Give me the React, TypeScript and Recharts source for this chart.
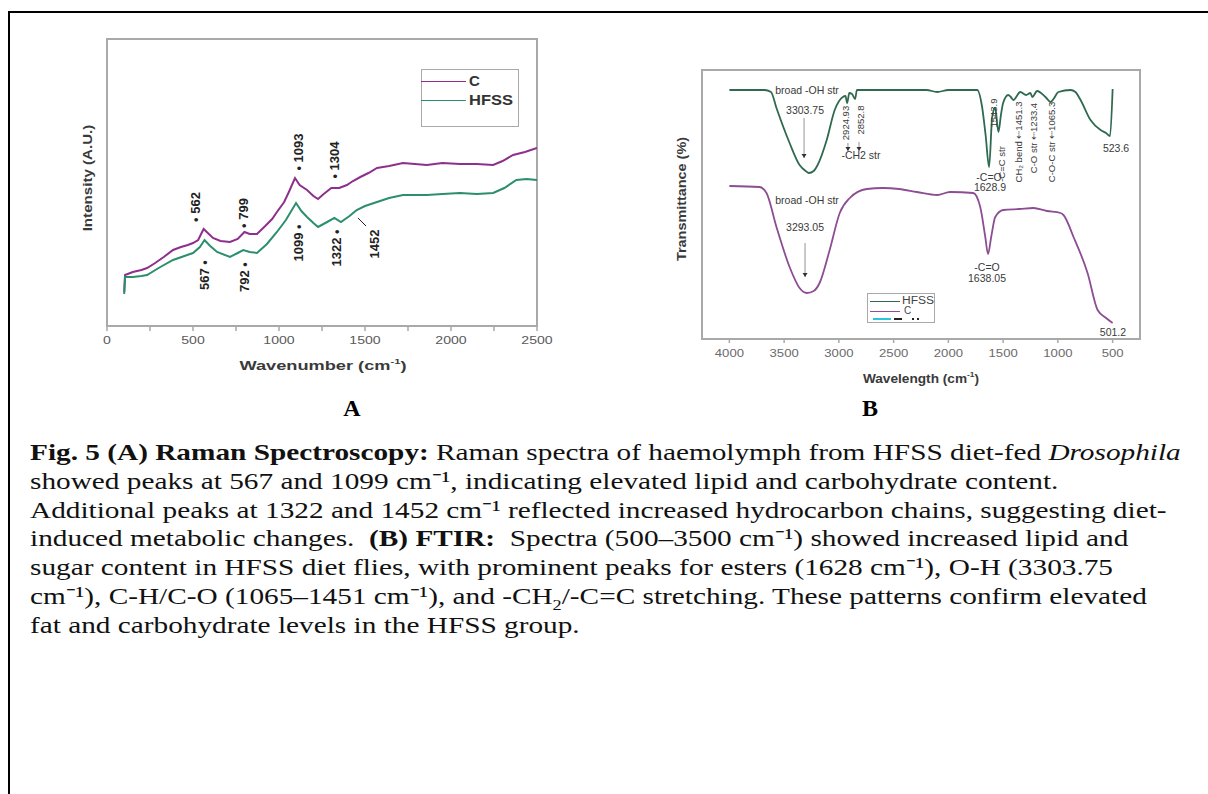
import React from "react";
import {
  LineChart,
  Line,
  XAxis,
  YAxis,
  ReferenceArea,
  ReferenceDot,
  ReferenceLine,
} from "recharts";

document.body.style.margin = "0";
document.body.style.overflow = "hidden";

const SANS = "Arial, 'Liberation Sans', sans-serif";
const SERIF = "'Times New Roman', 'Liberation Serif', serif";

const A_PURPLE = "#8e2f8e";
const A_GREEN = "#2b8f6e";
const B_GREEN = "#2f6a50";
const B_PURPLE = "#8c4d92";
const FRAME = "#a9a9a9";

// ---- A: Raman (wavenumber, intensity a.u.) ----
const ramanTicks = [0, 250, 500, 750, 1000, 1250, 1500, 1750, 2000, 2250, 2500];
const ramanC = [
  [100, 34], [105, 51], [150, 54], [200, 56], [233, 58], [280, 63], [330, 69],
  [384, 76], [430, 79], [470, 81], [500, 83], [530, 86], [550, 93], [562, 97],
  [580, 94], [616, 88], [660, 85], [715, 84], [760, 87], [799, 94], [830, 92],
  [872, 92], [920, 100], [960, 107], [988, 114], [1030, 124], [1060, 135],
  [1093, 148], [1120, 141], [1163, 136], [1200, 130], [1227, 127], [1260, 132],
  [1304, 138], [1350, 138], [1395, 141], [1430, 145], [1473, 149], [1520, 153],
  [1570, 158], [1640, 160], [1721, 163], [1790, 162], [1860, 161], [1950, 163],
  [2052, 162], [2150, 162], [2245, 161], [2300, 165], [2361, 171], [2430, 174],
  [2500, 178],
];
const ramanHFSS = [
  [100, 32], [105, 49], [150, 49], [200, 50], [233, 51], [300, 58], [384, 66],
  [450, 70], [500, 73], [540, 79], [567, 86], [600, 80], [640, 74], [715, 69],
  [760, 73], [792, 76], [830, 74], [872, 73], [930, 82], [988, 94], [1040, 106],
  [1099, 123], [1130, 115], [1163, 109], [1200, 103], [1227, 99], [1280, 104],
  [1322, 108], [1360, 104], [1410, 110], [1452, 116], [1500, 120], [1570, 124],
  [1640, 128], [1721, 131], [1860, 131], [1950, 132], [2052, 133], [2150, 132],
  [2245, 133], [2310, 138], [2380, 146], [2440, 147], [2500, 146],
];
const ramanLabels = [
  { text: "• 562", wn: 517, v: 119 },
  { text: "• 799", wn: 791, v: 113 },
  { text: "• 1093", wn: 1116, v: 174 },
  { text: "• 1304", wn: 1320, v: 166 },
  { text: "567 •", wn: 564, v: 51 },
  { text: "792 •", wn: 797, v: 49 },
  { text: "1099 •", wn: 1116, v: 83 },
  { text: "1322 •", wn: 1337, v: 78 },
  { text: "1452", wn: 1558, v: 82 },
];

// ---- B: FTIR (wavenumber, transmittance offset) ----
const ftirTicks = [4000, 3500, 3000, 2500, 2000, 1500, 1000, 500];
const ftirHFSS = [
  [4000, 249], [3679, 249], [3620, 247], [3570, 231], [3450, 196], [3359, 174],
  [3303, 168], [3274, 166], [3230, 168], [3194, 174], [3111, 199], [3038, 229],
  [2964, 242], [2940, 243], [2924, 236], [2905, 246], [2880, 245], [2852, 240],
  [2835, 249], [2500, 249], [2200, 249], [2102, 247], [2000, 249], [1737, 249],
  [1692, 232], [1660, 204], [1628, 172], [1600, 222], [1572, 231], [1543, 207],
  [1520, 224], [1500, 236], [1453, 244], [1430, 242], [1407, 239], [1343, 247],
  [1290, 244], [1251, 246], [1233, 242], [1190, 248], [1114, 242], [1065, 237],
  [1040, 240], [995, 247], [885, 249], [840, 247], [793, 239], [702, 219],
  [610, 209], [560, 206], [523.6, 203], [500, 250],
];
const ftirC = [
  [4000, 153], [3725, 152], [3661, 146], [3570, 112], [3450, 72], [3359, 51],
  [3293, 46], [3230, 48], [3176, 56], [3084, 89], [2992, 126], [2900, 141],
  [2745, 150], [2598, 151], [2450, 150], [2287, 147], [2102, 144], [1984, 147],
  [1773, 146], [1709, 132], [1663, 102], [1638, 85], [1609, 102], [1572, 122],
  [1499, 129], [1350, 130], [1224, 131], [1100, 128], [976, 126], [949, 124],
  [857, 102], [729, 66], [637, 29], [560, 21], [500, 16],
];
const ftirFlatLabels = [
  { text: "broad -OH str", wn: 3291, v: 249 },
  { text: "3303.75", wn: 3309, v: 229 },
  { text: "-CH2 str", wn: 2798, v: 184 },
  { text: "-C=O", wn: 1629, v: 162 },
  { text: "1628.9", wn: 1620, v: 152 },
  { text: "523.6", wn: 469, v: 191 },
  { text: "broad -OH str", wn: 3291, v: 139 },
  { text: "3293.05", wn: 3309, v: 112 },
  { text: "-C=O", wn: 1647, v: 72 },
  { text: "1638.05", wn: 1647, v: 61 },
  { text: "501.2", wn: 497, v: 7 },
];
const ftirRotLabels = [
  { text: "2924.93", wn: 2944, v: 216 },
  { text: "2852.8", wn: 2807, v: 219 },
  { text: "1543.9", wn: 1592, v: 226 },
  { text: "-C=C str", wn: 1519, v: 175 },
  { text: "CH\u2082 bend \u21E01451.3", wn: 1364, v: 197 },
  { text: "C-O str \u21E01233.4", wn: 1227, v: 201 },
  { text: "C-O-C str \u21E01065.3", wn: 1054, v: 197 },
];
const ftirArrows = [
  { wn: 3318, from: 221, to: 181 },
  { wn: 3309, from: 96, to: 62 },
  { wn: 2917, from: 196, to: 188 },
  { wn: 2816, from: 197, to: 188 },
];

const toPts = (arr: number[][]) => arr.map(([wn, v]) => ({ wn, v }));

function Annot({ cx, cy, text, size, bold, rotate, color }: any) {
  return (
    <text
      x={cx}
      y={cy}
      transform={rotate ? `rotate(-90 ${cx} ${cy})` : undefined}
      textAnchor="middle"
      dominantBaseline="central"
      fontSize={size}
      fontWeight={bold ? 700 : 400}
      fill={color}
      fontFamily={SANS}
    >
      {text}
    </text>
  );
}

function ArrowHead({ cx, cy }: any) {
  return <path d={`M${cx - 2.5},${cy - 4} L${cx + 2.5},${cy - 4} L${cx},${cy} Z`} fill="#333" />;
}

// wide tick labels (the source figure is stretched sideways)
function StretchTick({ x, y, payload, fontSize, fill, sx, only500 }: any) {
  const v = payload.value;
  if (only500 && v % 500 !== 0) return null;
  return (
    <g transform={`translate(${x},${y})`}>
      <text transform={`scale(${sx},1)`} x={0} y={0} dy="0.71em" textAnchor="middle" fontSize={fontSize} fill={fill} fontFamily={SANS}>
        {v}
      </text>
    </g>
  );
}

function RamanChart() {
  return (
    <LineChart width={500} height={330} margin={{ top: 9, right: 23, left: 47, bottom: 4 }}>
      <XAxis
        dataKey="wn"
        type="number"
        domain={[0, 2500]}
        ticks={ramanTicks}
        allowDataOverflow
        tick={(p: any) => <StretchTick {...p} fontSize={11} fill="#5a5a5a" sx={1.28} only500 />}
        tickSize={5}
        tickMargin={5}
        tickLine={{ stroke: FRAME, strokeWidth: 1.5 }}
        axisLine={false}
        height={30}
      />
      <YAxis type="number" domain={[0, 287]} tick={false} axisLine={false} width={0} />
      <ReferenceArea x1={0} x2={2500} y1={0} y2={287} fill="none" stroke={FRAME} strokeWidth={2} ifOverflow="visible" />
      <Line data={toPts(ramanC)} dataKey="v" stroke={A_PURPLE} strokeWidth={2} dot={false} isAnimationActive={false} />
      <Line data={toPts(ramanHFSS)} dataKey="v" stroke={A_GREEN} strokeWidth={2} dot={false} isAnimationActive={false} />
      <ReferenceLine
        segment={[{ x: 1459, y: 108 }, { x: 1506, y: 100 }]}
        stroke="#222"
        strokeWidth={1}
        ifOverflow="visible"
      />
      {ramanLabels.map((a, i) => (
        <ReferenceDot
          key={"ra" + i}
          x={a.wn}
          y={a.v}
          r={0}
          ifOverflow="visible"
          shape={(p: any) => <Annot cx={p.cx} cy={p.cy} text={a.text} size={13} bold rotate color="#222" />}
        />
      ))}
    </LineChart>
  );
}

function FtirChart() {
  return (
    <LineChart width={510} height={313} margin={{ top: 10, right: 20, left: 52, bottom: 4 }}>
      <XAxis
        dataKey="wn"
        type="number"
        domain={[250, 4250]}
        reversed
        ticks={ftirTicks}
        allowDataOverflow
        tick={(p: any) => <StretchTick {...p} fontSize={10.5} fill="#6a6a6a" sx={1.25} />}
        tickSize={4}
        tickMargin={7}
        tickLine={{ stroke: FRAME, strokeWidth: 1.5 }}
        axisLine={false}
        height={30}
      />
      <YAxis type="number" domain={[0, 269]} tick={false} axisLine={false} width={0} />
      <ReferenceArea x1={250} x2={4250} y1={0} y2={269} fill="none" stroke={FRAME} strokeWidth={2} ifOverflow="visible" />
      <Line type="monotone" data={toPts(ftirHFSS)} dataKey="v" stroke={B_GREEN} strokeWidth={1.8} dot={false} isAnimationActive={false} />
      <Line type="monotone" data={toPts(ftirC)} dataKey="v" stroke={B_PURPLE} strokeWidth={1.8} dot={false} isAnimationActive={false} />
      {ftirArrows.map((a, i) => (
        <ReferenceLine
          key={"fl" + i}
          segment={[{ x: a.wn, y: a.from }, { x: a.wn, y: a.to }]}
          stroke="#777"
          strokeWidth={0.8}
          ifOverflow="visible"
        />
      ))}
      {ftirArrows.map((a, i) => (
        <ReferenceDot key={"fh" + i} x={a.wn} y={a.to} r={0} ifOverflow="visible" shape={(p: any) => <ArrowHead cx={p.cx} cy={p.cy} />} />
      ))}
      {ftirFlatLabels.map((a, i) => (
        <ReferenceDot
          key={"ft" + i}
          x={a.wn}
          y={a.v}
          r={0}
          ifOverflow="visible"
          shape={(p: any) => <Annot cx={p.cx} cy={p.cy} text={a.text} size={10.5} color="#3a3a3a" />}
        />
      ))}
      {ftirRotLabels.map((a, i) => (
        <ReferenceDot
          key={"fr" + i}
          x={a.wn}
          y={a.v}
          r={0}
          ifOverflow="visible"
          shape={(p: any) => <Annot cx={p.cx} cy={p.cy} text={a.text} size={9.5} rotate color="#3a3a3a" />}
        />
      ))}
    </LineChart>
  );
}

const abs = (left: number, top: number): React.CSSProperties => ({ position: "absolute", left, top });

const titleStyle: React.CSSProperties = {
  fontSize: 12,
  fontWeight: 700,
  color: "#3a3a3a",
  whiteSpace: "nowrap",
};

function LegendLine({ left, top, width, color, thick }: any) {
  return <div style={{ ...abs(left, top), width, height: 0, borderTop: `${thick}px solid ${color}` }} />;
}

export default function App() {
  return (
    <div style={{ position: "relative", width: 1208, height: 794, overflow: "hidden", background: "#fff", fontFamily: SANS }}>
      <div
        style={{
          ...abs(8, 11),
          width: 1300,
          height: 900,
          borderTop: "2px solid #000",
          borderLeft: "2px solid #000",
        }}
      />

      {/* A */}
      <div style={abs(60, 30)}>
        <RamanChart />
      </div>
      <div style={{ ...abs(88, 178), ...titleStyle, transform: "translate(-50%, -50%) rotate(-90deg) scaleX(1.26)" }}>
        Intensity (A.U.)
      </div>
      <div style={{ ...abs(323, 365), ...titleStyle, fontSize: 13, transform: "translate(-50%, -50%) scaleX(1.4)" }}>
        Wavenumber (cm<sup style={{ fontSize: 8 }}>-1</sup>)
      </div>
      <div style={{ ...abs(421, 69), width: 98, height: 58, border: `1.5px solid ${FRAME}`, background: "#fff", boxSizing: "border-box" }}>
        <LegendLine left={-1} top={11} width={45} color={A_PURPLE} thick={1.6} />
        <div style={{ ...abs(47, 2), fontSize: 15, fontWeight: 700, color: "#333" }}>C</div>
        <LegendLine left={-1} top={30} width={45} color={A_GREEN} thick={1.6} />
        <div style={{ ...abs(47, 21), fontSize: 15, fontWeight: 700, color: "#333", transform: "scaleX(1.1)", transformOrigin: "left" }}>HFSS</div>
      </div>

      {/* B */}
      <div style={abs(650, 60)}>
        <FtirChart />
      </div>
      <div style={{ ...abs(682, 199), ...titleStyle, transform: "translate(-50%, -50%) rotate(-90deg) scaleX(1.2)" }}>
        Transmittance (%)
      </div>
      <div style={{ ...abs(921, 378), ...titleStyle, fontSize: 13, transform: "translate(-50%, -50%) scaleX(1.05)" }}>
        Wavelength (cm<sup style={{ fontSize: 8 }}>-1</sup>)
      </div>
      <div style={{ ...abs(867, 293), width: 68, height: 30, border: `1px solid ${FRAME}`, background: "#fff", boxSizing: "border-box" }}>
        <LegendLine left={2} top={7} width={30} color={B_GREEN} thick={1.6} />
        <div style={{ ...abs(34, 1), fontSize: 10, color: "#444", transform: "scaleX(1.2)", transformOrigin: "left" }}>HFSS</div>
        <LegendLine left={2} top={17} width={30} color={B_PURPLE} thick={1.6} />
        <div style={{ ...abs(36, 11), fontSize: 10, color: "#444" }}>C</div>
        <div style={{ ...abs(5, 24), width: 18, height: 2, background: "#29c4e0" }} />
        <div style={{ ...abs(26, 24), width: 8, height: 2, background: "#222" }} />
        <div style={{ ...abs(44, 24), width: 2, height: 2, background: "#222" }} />
        <div style={{ ...abs(49, 24), width: 2, height: 2, background: "#222" }} />
      </div>

      <div style={{ ...abs(352, 408), transform: "translate(-50%, -50%)", fontFamily: SERIF, fontWeight: 700, fontSize: 24 }}>A</div>
      <div style={{ ...abs(870, 408), transform: "translate(-50%, -50%)", fontFamily: SERIF, fontWeight: 700, fontSize: 24 }}>B</div>

      <div
        style={{
          ...abs(30, 438),
          fontFamily: SERIF,
          fontSize: 24,
          lineHeight: "28.8px",
          color: "#111",
          whiteSpace: "nowrap",
          transform: "scaleX(1.22)",
          transformOrigin: "left top",
        }}
      >
        <div>
          <b>Fig. 5 (A) Raman Spectroscopy:</b> Raman spectra of haemolymph from HFSS diet-fed <i>Drosophila</i>
        </div>
        <div>showed peaks at 567 and 1099 cm⁻¹, indicating elevated lipid and carbohydrate content.</div>
        <div>Additional peaks at 1322 and 1452 cm⁻¹ reflected increased hydrocarbon chains, suggesting diet-</div>
        <div>
          induced metabolic changes.&nbsp; <b>(B) FTIR:</b>&nbsp; Spectra (500–3500 cm⁻¹) showed increased lipid and
        </div>
        <div>sugar content in HFSS diet flies, with prominent peaks for esters (1628 cm⁻¹), O-H (3303.75</div>
        <div>
          cm⁻¹), C-H/C-O (1065–1451 cm⁻¹), and -CH<sub style={{ fontSize: 15, lineHeight: 0 }}>2</sub>/-C=C stretching. These patterns confirm elevated
        </div>
        <div>fat and carbohydrate levels in the HFSS group.</div>
      </div>
    </div>
  );
}
